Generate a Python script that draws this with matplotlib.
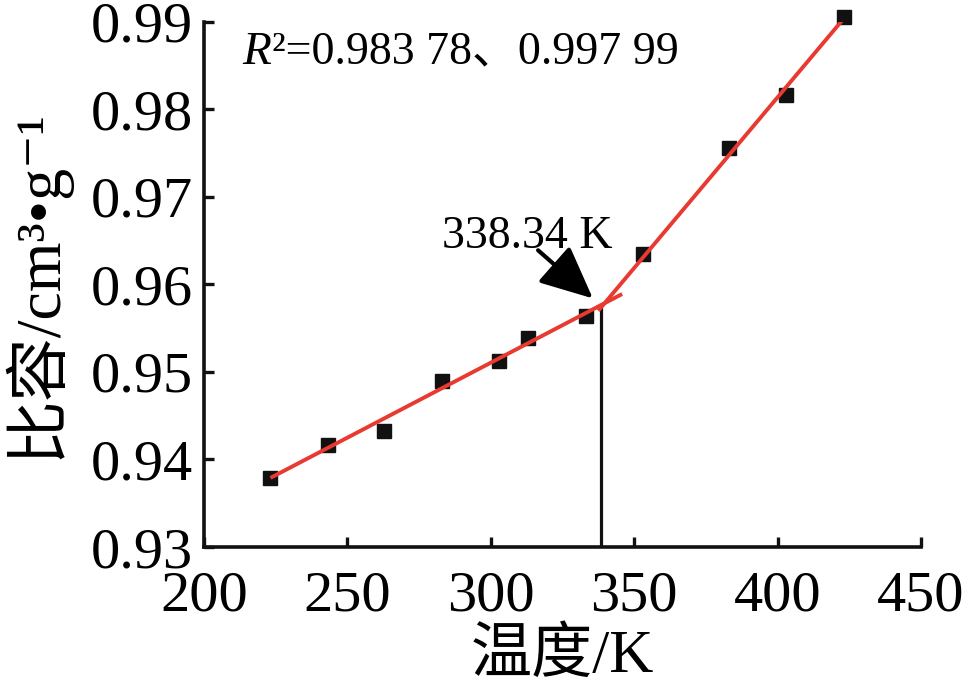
import numpy as np
import matplotlib
matplotlib.use("Agg")
import matplotlib.pyplot as plt

# data
temps = [223.2, 243.1, 262.9, 283.1, 302.9, 313.1, 333.1, 353.2, 383.1, 403.1, 423.2]
vols = [0.9379, 0.9416, 0.9433, 0.9490, 0.9513, 0.9539, 0.9564, 0.9635, 0.9756, 0.9816, 0.9906]

# fitted lines (start / end points)
fit1_x = [223.2, 345.8]
fit1_y = [0.9379, 0.9589]
fit2_x = [337.5, 422.9]
fit2_y = [0.9570, 0.9903]

t_glass = 338.34
v_glass = 0.9576

fonts = ["Liberation Serif", "Noto Sans CJK SC", "DejaVu Serif"]
plt.rcParams["font.family"] = fonts

fig = plt.figure(figsize=(9.68, 6.92), dpi=100)
ax = fig.add_axes([0.2107, 0.2095, 0.7407, 0.759])

red = "#e83a30"
ax.plot(fit1_x, fit1_y, color=red, lw=2.8, zorder=3, solid_capstyle="butt")
ax.plot(fit2_x, fit2_y, color=red, lw=2.8, zorder=3, solid_capstyle="butt")
ax.plot(temps, vols, "s", color="#111111", markersize=10.5, zorder=2, clip_on=False)

# vertical marker at the break point
ax.plot([t_glass, t_glass], [0.93, v_glass], color="#111111", lw=2.3, zorder=2)

ax.annotate("", xy=(335.6, 0.9584), xytext=(316.5, 0.9639),
            arrowprops=dict(arrowstyle="-|>,head_length=1.3,head_width=0.6",
                            color="black", lw=3, mutation_scale=25,
                            shrinkA=0, shrinkB=0))
ax.text(312.6, 0.9654, "338.34 K", fontsize=33, ha="center", va="center")

t1 = ax.text(213.5, 0.9852, "R", fontsize=34, style="italic", ha="left", va="baseline")
ax.annotate("²=0.983 78、0.997 99", xy=(1, 0.9852), xycoords=(t1, "data"),
            fontsize=33, ha="left", va="baseline")

ax.set_xlim(200, 450)
ax.set_ylim(0.93, 0.99)
ax.set_xticks([200, 250, 300, 350, 400, 450])
ax.set_yticks([0.93, 0.94, 0.95, 0.96, 0.97, 0.98, 0.99])
ax.set_yticklabels(["0.93", "0.94", "0.95", "0.96", "0.97", "0.98", "0.99"])

for s in ["top", "right"]:
    ax.spines[s].set_visible(False)
for s in ["left", "bottom"]:
    ax.spines[s].set_linewidth(2.6)
    ax.spines[s].set_color("#111111")

ax.tick_params(direction="in", length=7, width=2.4, labelsize=42, color="#111111")
ax.tick_params(axis="x", pad=17)
ax.tick_params(axis="y", pad=8)

ax.set_xlabel("温度/K", fontsize=44, labelpad=4)
ax.set_ylabel("比容/cm³•g⁻¹", fontsize=46, labelpad=15)

fig.savefig("out.png", dpi=100)
